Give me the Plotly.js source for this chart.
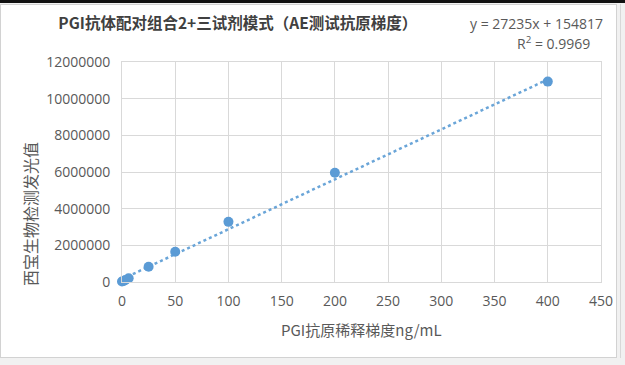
<!DOCTYPE html>
<html>
<head>
<meta charset="utf-8">
<script src="https://cdn.plot.ly/plotly-3.0.1.min.js"></script>
<style>
  html, body { margin:0; padding:0; width:625px; height:365px; overflow:hidden; background:#f1f1f1; }
  #topbar { position:absolute; left:0; top:0; width:625px; height:3px; background:#111; }
  #frame { position:absolute; left:0; top:4px; width:617px; height:354px; box-sizing:border-box; border:1px solid #d2d2d2; background:#fff; }
  #chart { position:absolute; left:0; top:0; width:615px; height:352px; }
  #rightline { position:absolute; left:620px; top:4px; width:1px; height:354px; background:#d8d8d8; }
</style>
</head>
<body>
<div id="topbar"></div>
<div id="frame"><div id="chart"></div></div>
<div id="rightline"></div>
<script>
// Data
const concentrations = [0, 1.5625, 3.125, 6.25, 25, 50, 100, 200, 400];
const signals = [30000, 60000, 110000, 200000, 830000, 1650000, 3280000, 5960000, 10930000];
const xTicks = [0, 50, 100, 150, 200, 250, 300, 350, 400, 450];
const yTicks = [0, 2000000, 4000000, 6000000, 8000000, 10000000, 12000000];
const fitSlope = 27235;
const fitIntercept = 154817;
const fitR2 = 0.9969;
const fitX = [0, 400];
const chartTitle = "PGI抗体配对组合2+三试剂模式（AE测试抗原梯度）";
const xTitle = "PGI抗原稀释梯度ng/mL";
const yTitle = "西宝生物检测发光值";

const fitY = fitX.map(x => fitSlope * x + fitIntercept);
const blue = "#5b9bd5";
const grey = "#595959";
const grid = "#d9d9d9";
const latin = "'Open Sans', 'Noto Sans CJK SC', sans-serif";
const cjk = "'Noto Sans CJK SC', 'Open Sans', sans-serif";

const traces = [
  { x: fitX, y: fitY, mode: "lines", type: "scatter", cliponaxis: false,
    line: { color: "#6aa5d8", width: 2.5, dash: "dot" }, hoverinfo: "skip", showlegend: false },
  { x: concentrations, y: signals, mode: "markers", type: "scatter", cliponaxis: false,
    marker: { color: blue, size: 10 }, showlegend: false }
];

const layout = {
  width: 615, height: 352,
  margin: { l: 121, r: 15, t: 57, b: 75 },
  paper_bgcolor: "#fff", plot_bgcolor: "#fff",
  showlegend: false,
  title: { text: "<b>" + chartTitle + "</b>", xref: "container", yref: "container",
           x: 0.385, y: 0.946, xanchor: "center", yanchor: "middle",
           font: { family: cjk, size: 15.5, color: "#404040" } },
  xaxis: {
    range: [0, 450], tickvals: xTicks, ticktext: xTicks.map(String),
    showgrid: true, gridcolor: grid, gridwidth: 1,
    showline: true, linecolor: grid, linewidth: 1, mirror: true,
    zeroline: false, ticks: "", ticklabelstandoff: 6,
    tickfont: { family: latin, size: 14, color: grey }, fixedrange: true
  },
  yaxis: {
    range: [0, 12000000], tickvals: yTicks, ticktext: yTicks.map(String),
    showgrid: true, gridcolor: grid, gridwidth: 1,
    showline: true, linecolor: grid, linewidth: 1, mirror: true,
    zeroline: false, ticks: "", ticklabelstandoff: 8,
    tickfont: { family: latin, size: 14, color: grey }, fixedrange: true
  },
  annotations: [
    { text: "y = " + fitSlope + "x + " + fitIntercept, xref: "paper", yref: "paper",
      x: 0.866, y: 1.177, xanchor: "center", yanchor: "middle", showarrow: false,
      font: { family: latin, size: 14, color: grey } },
    { text: "R<sup>2</sup> = " + fitR2, xref: "paper", yref: "paper",
      x: 0.9, y: 1.086, xanchor: "center", yanchor: "middle", showarrow: false,
      font: { family: latin, size: 14, color: grey } },
    { text: yTitle, xref: "paper", yref: "paper", x: -0.192, y: 0.309,
      xanchor: "center", yanchor: "middle", textangle: -90, showarrow: false,
      font: { family: cjk, size: 16, color: grey } },
    { text: xTitle, xref: "paper", yref: "paper", x: 0.501, y: -0.214,
      xanchor: "center", yanchor: "middle", showarrow: false,
      font: { family: cjk, size: 15, color: grey } }
  ]
};

Plotly.newPlot("chart", traces, layout, { displayModeBar: false, staticPlot: true });
</script>
</body>
</html>
